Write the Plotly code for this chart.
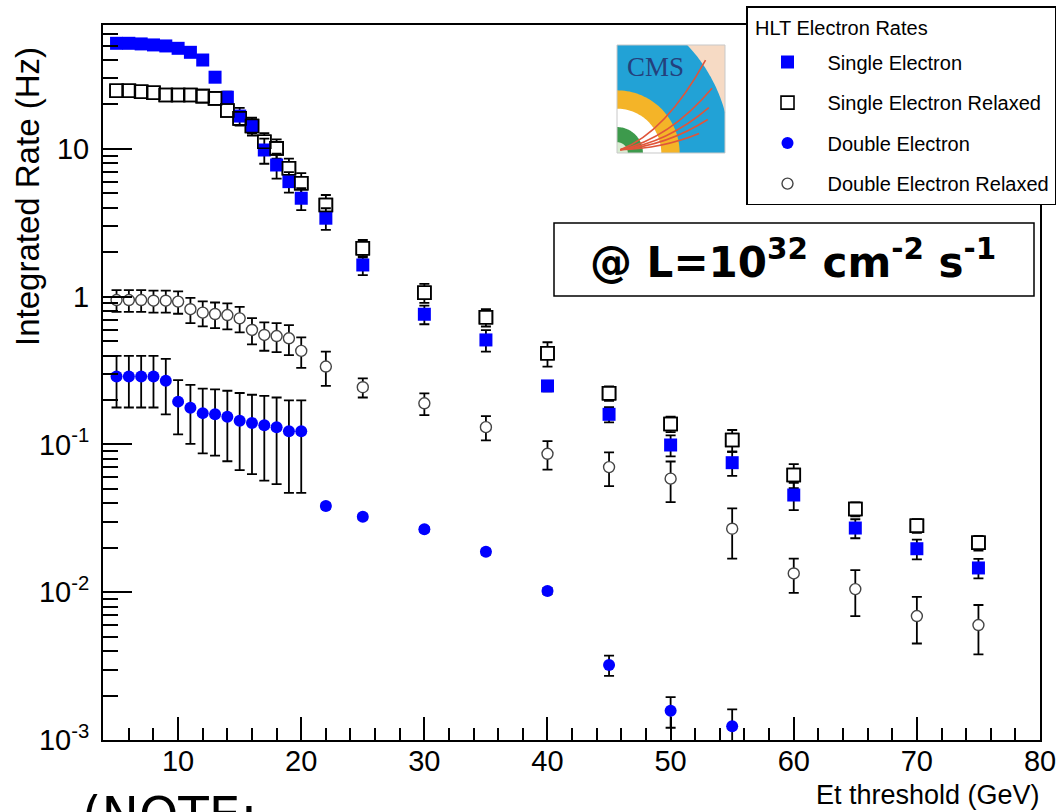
import numpy as np
import plotly.graph_objects as go

# ---------------- data ----------------
et_single = [5, 6, 7, 8, 9, 10, 11, 12, 13, 14, 15, 16, 17, 18, 19, 20,
             22, 25, 30, 35, 40, 45, 50, 55, 60, 65, 70, 75]
single_rate = [51.9, 51.9, 51.4, 50.6, 49.8, 48.0, 45.1, 40.0, 30.6, 22.4, 16.7, 14.3,
               9.84, 7.79, 6.01, 4.64, 3.40, 1.64, 0.761, 0.510, 0.249, 0.160,
               0.0992, 0.0753, 0.0455, 0.0272, 0.0197, 0.0146]
single_err = [1.4, 1.4, 1.4, 1.4, 1.4, 1.5, 1.5, 1.6, 1.8, 2.0, 2.3, 2.0,
              1.9, 1.5, 0.95, 0.78, 0.57, 0.24, 0.11, 0.085, 0.02, 0.019,
              0.016, 0.014, 0.0095, 0.004, 0.003, 0.0022]

et_relaxed = et_single
relaxed_rate = [24.8, 24.8, 24.4, 24.0, 23.2, 23.2, 23.2, 22.8, 22.0, 18.2, 16.1, 14.3,
                11.2, 10.1, 7.40, 5.86, 4.18, 2.13, 1.065, 0.726, 0.414, 0.222,
                0.1376, 0.1073, 0.0622, 0.0366, 0.0282, 0.0216]
relaxed_err = [1.0, 1.0, 1.0, 1.0, 1.0, 1.0, 1.0, 1.0, 1.1, 1.5, 1.6, 1.6,
               1.6, 1.5, 1.2, 1.0, 0.7, 0.29, 0.155, 0.097, 0.078, 0.025,
               0.0165, 0.018, 0.0115, 0.004, 0.003, 0.0025]

et_double = [5, 6, 7, 8, 9, 10, 11, 12, 13, 14, 15, 16, 17, 18, 19, 20,
             22, 25, 30, 35, 40, 45, 50, 55]
double_rate = [0.288, 0.288, 0.288, 0.288, 0.270, 0.195, 0.177, 0.163, 0.160, 0.154,
               0.145, 0.140, 0.135, 0.131, 0.123, 0.123, 0.0384, 0.0324, 0.0267,
               0.0188, 0.0102, 0.00322, 0.00158, 0.00124]
double_err = [0.11, 0.11, 0.11, 0.11, 0.11, 0.078, 0.076, 0.076, 0.076, 0.077,
              0.078, 0.077, 0.078, 0.077, 0.076, 0.076, 0.0015, 0.0012, 0.001,
              0.0008, 0.0005, 0.0005, 0.00037, 0.00037]

et_drelaxed = et_single
drelaxed_rate = [0.95, 0.95, 0.95, 0.94, 0.94, 0.927, 0.823, 0.78, 0.764, 0.752,
                 0.714, 0.596, 0.551, 0.542, 0.523, 0.43, 0.337, 0.244, 0.190,
                 0.131, 0.0865, 0.0703, 0.0587, 0.0269, 0.0134, 0.0105, 0.0069, 0.0060]
drelaxed_err = [0.16, 0.16, 0.16, 0.16, 0.16, 0.16, 0.16, 0.15, 0.15, 0.15,
                0.14, 0.12, 0.12, 0.12, 0.12, 0.10, 0.088, 0.036, 0.032,
                0.0245, 0.019, 0.018, 0.018, 0.010, 0.0035, 0.0036, 0.0024, 0.0022]

x_tickvals = [10, 20, 30, 40, 50, 60, 70, 80]
x_ticktext = ["10", "20", "30", "40", "50", "60", "70", "80"]
y_tickvals = [0.001, 0.01, 0.1, 1, 10]
y_ticktext = ["10<sup>-3</sup>", "10<sup>-2</sup>", "10<sup>-1</sup>", "1", "10"]
legend_title = "HLT Electron Rates"

BLUE = "#0000ff"
FONT = "Liberation Sans, Arial, sans-serif"

# ---------------- geometry helpers (pixel -> paper) ----------------
W, H = 1056, 812
L, R, T, B = 103, 1040, 25, 740


def pxx(x):
    return (x - L) / (R - L)


def pxy(y):
    return (B - y) / (B - T)


def err(vals, thick=1.8, w=5):
    return dict(type="data", array=vals, visible=True, color="black",
                thickness=thick, width=w)


fig = go.Figure()

# relaxed single (white filled, hides its own bar inside the marker)
fig.add_trace(go.Scatter(
    x=et_relaxed, y=relaxed_rate, mode="markers", name="Single Electron Relaxed",
    legendgroup="b", legendrank=2,
    marker=dict(symbol="square", size=13, color="white",
                line=dict(color="black", width=1.6)),
    error_y=err(relaxed_err)))
# relaxed double
fig.add_trace(go.Scatter(
    x=et_drelaxed, y=drelaxed_rate, mode="markers", name="Double Electron Relaxed",
    legendgroup="d", legendrank=4,
    marker=dict(symbol="circle", size=11, color="white",
                line=dict(color="#444444", width=1.4)),
    error_y=err(drelaxed_err)))
# single electron
fig.add_trace(go.Scatter(
    x=et_single, y=single_rate, mode="markers", name="Single Electron",
    legendgroup="a", legendrank=1,
    marker=dict(symbol="square", size=13, color=BLUE, line=dict(width=0)),
    error_y=err(single_err)))
# double electron
fig.add_trace(go.Scatter(
    x=et_double, y=double_rate, mode="markers", name="Double Electron",
    legendgroup="c", legendrank=3,
    marker=dict(symbol="circle", size=12, color=BLUE, line=dict(width=0)),
    error_y=err(double_err)))
# outline of relaxed single on top (as ROOT draws hollow markers)
fig.add_trace(go.Scatter(
    x=et_relaxed, y=relaxed_rate, mode="markers", showlegend=False,
    hoverinfo="skip",
    marker=dict(symbol="square-open", size=13, color="black",
                line=dict(color="black", width=1.6))))

# ---------------- shapes: luminosity box + CMS logo ----------------
shapes = []
annotations = []

shapes.append(dict(type="rect", xref="paper", yref="paper",
                   x0=pxx(554), x1=pxx(1034), y0=pxy(296), y1=pxy(223),
                   line=dict(color="black", width=1.5), fillcolor="white",
                   layer="above"))
annotations.append(dict(
    xref="paper", yref="paper", x=pxx(793), y=pxy(259),
    xanchor="center", yanchor="middle", showarrow=False,
    text="<b>@ L=10<sup>32</sup> cm<sup>-2</sup> s<sup>-1</sup></b>",
    font=dict(family="DejaVu Sans", size=42, color="black")))

# CMS logo (decoration) built from paths in paper coords
LX0, LY0, LS = 617, 153, 108


def lp(u, v):
    return pxx(LX0 + u * LS), pxy(LY0 - v * LS)


def path_from(points):
    parts = []
    for i, (u, v) in enumerate(points):
        x, y = lp(u, v)
        parts.append(("M" if i == 0 else "L") + f"{x:.5f},{y:.5f}")
    return " ".join(parts) + " Z"


def quarter(r, cx=0.0, cy=0.0, a0=0.0, a1=np.pi / 2, n=40):
    a = np.linspace(a0, a1, n)
    return [(cx + r * np.cos(t), cy + r * np.sin(t)) for t in a]


# background
shapes.append(dict(type="path", xref="paper", yref="paper",
                   path=path_from([(0, 0), (1, 0), (1, 1), (0, 1)]),
                   fillcolor="#f6dac4", line=dict(width=0), layer="above"))
# cyan field
cx, rc = -0.4, 1.45
a_start = np.arctan2(np.sqrt(rc ** 2 - 1.4 ** 2), 1.4)
a_end = np.arctan2(1.0, np.sqrt(rc ** 2 - 1.0))
pts = [(0, 0), (1, 0)] + quarter(rc, cx, 0.0, a_start, a_end) + [(0, 1)]
shapes.append(dict(type="path", xref="paper", yref="paper", path=path_from(pts),
                   fillcolor="#22a2d6", line=dict(width=0), layer="above"))
for r, col in [(0.58, "#f4b428"), (0.41, "#ffffff"), (0.24, "#3d9a4c"), (0.1, "#d9ecd2")]:
    pts = [(0, 0)] + quarter(r)
    shapes.append(dict(type="path", xref="paper", yref="paper", path=path_from(pts),
                       fillcolor=col, line=dict(width=0), layer="above"))
# red tracks
for (u1, v1) in [(0.82, 0.86), (0.88, 0.6), (0.85, 0.42), (0.84, 0.31), (0.76, 0.18)]:
    x0, y0 = lp(0.03, 0.03)
    xc, yc = lp(0.55 * u1, 0.22 * v1)
    x1, y1 = lp(u1, v1)
    shapes.append(dict(type="path", xref="paper", yref="paper",
                       path=f"M{x0:.5f},{y0:.5f} Q{xc:.5f},{yc:.5f} {x1:.5f},{y1:.5f}",
                       line=dict(color="#e0553a", width=1.6), layer="above"))
# thin frame
shapes.append(dict(type="path", xref="paper", yref="paper",
                   path=path_from([(0, 0), (1, 0), (1, 1), (0, 1)]),
                   line=dict(color="#c8c8c8", width=1), layer="above"))
xt, yt = lp(0.36, 0.8)
annotations.append(dict(xref="paper", yref="paper", x=xt, y=yt, showarrow=False,
                        xanchor="center", yanchor="middle", text="CMS",
                        font=dict(family="Liberation Serif, DejaVu Serif", size=27,
                                  color="#24407c")))

# legend heading (drawn as text on top of the legend box)
annotations.append(dict(xref="paper", yref="paper", x=pxx(753), y=pxy(28),
                        xanchor="left", yanchor="middle", showarrow=False,
                        text=legend_title,
                        font=dict(family=FONT, size=20, color="black")))

# axis titles and note
annotations.append(dict(xref="paper", yref="paper", x=pxx(27), y=pxy(197),
                        xanchor="center", yanchor="middle", showarrow=False,
                        textangle=-90, text="Integrated Rate (Hz)",
                        font=dict(family=FONT, size=33, color="black")))
annotations.append(dict(xref="paper", yref="paper", x=pxx(1042), y=pxy(795),
                        xanchor="right", yanchor="middle", showarrow=False,
                        text="Et threshold (GeV)",
                        font=dict(family=FONT, size=27, color="black")))
annotations.append(dict(xref="paper", yref="paper", x=pxx(80), y=pxy(784),
                        xanchor="left", yanchor="top", showarrow=False,
                        text="(NOTE:",
                        font=dict(family="DejaVu Sans", size=50, color="black")))

y_minor = [k * 10.0 ** e for e in range(-3, 2) for k in range(2, 10) if k * 10.0 ** e < 69]
x_minor = [v for v in range(6, 80, 2) if v % 10 != 0]

fig.update_layout(
    width=W, height=H,
    margin=dict(l=L, r=W - R, t=T, b=H - B, pad=0, autoexpand=False),
    paper_bgcolor="white", plot_bgcolor="white",
    font=dict(family=FONT, color="black"),
    shapes=shapes, annotations=annotations,
    showlegend=True,
    legend=dict(x=pxx(746), y=pxy(6), xanchor="left", yanchor="top",
                bgcolor="white", bordercolor="black", borderwidth=1.5,
                font=dict(family=FONT, size=20, color="black"),
                title=dict(text="<span style='font-size:20px'>\u00a0</span>",
                           font=dict(family=FONT, size=27, color="rgba(0,0,0,0)")),
                itemwidth=70, tracegroupgap=11.5, traceorder="grouped"),
    xaxis=dict(range=[3.9, 80], showline=True, linecolor="black", linewidth=2,
               mirror=True, showgrid=False, zeroline=False,
               ticks="inside", ticklen=23, tickwidth=1.5, tickcolor="black",
               tickmode="array", tickvals=x_tickvals, ticktext=x_ticktext,
               tickfont=dict(family=FONT, size=29, color="black"),
               ticklabelstandoff=-6, ticklabeloverflow="allow",
               minor=dict(ticks="inside", ticklen=12, tickwidth=1.5,
                          tickcolor="black", tickmode="array", tickvals=x_minor,
                          showgrid=False)),
    yaxis=dict(type="log", range=[-3, 1.839], showline=True, linecolor="black",
               linewidth=2, mirror=True, showgrid=False, zeroline=False,
               ticks="inside", ticklen=29, tickwidth=1.5, tickcolor="black",
               tickmode="array", tickvals=y_tickvals, ticktext=y_ticktext,
               tickfont=dict(family=FONT, size=29, color="black"),
               ticklabelstandoff=6, ticklabeloverflow="allow",
               minor=dict(ticks="inside", ticklen=15, tickwidth=1.5,
                          tickcolor="black", tickmode="array", tickvals=y_minor,
                          showgrid=False)),
)

fig.write_html("out.html")
